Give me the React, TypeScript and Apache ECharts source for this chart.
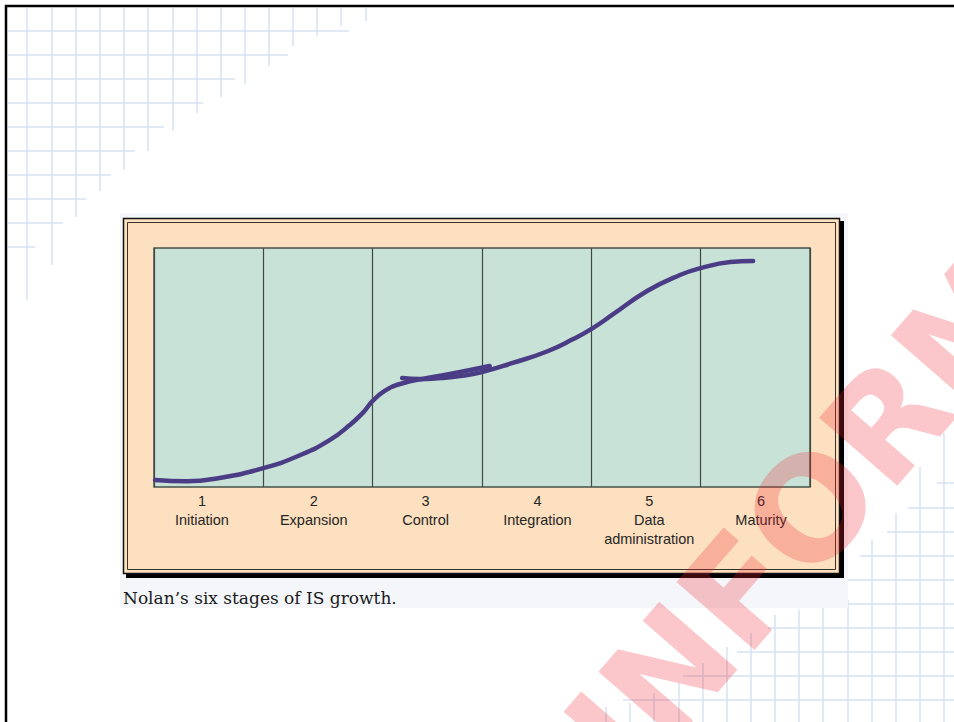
import React, { useEffect, useRef } from "react";
import * as echarts from "echarts";

// ---- chart data ----
const stageNumbers = ["1", "2", "3", "4", "5", "6"];
const stageNames = ["Initiation", "Expansion", "Control", "Integration", "Data\nadministration", "Maturity"];

// Stage position (0..6) and relative growth level (0..100) of the curve
const earlyCurveX = [0.01, 0.3, 0.6, 1.0, 1.34, 1.61, 1.79, 1.91, 2.0, 2.11, 2.25, 2.5, 2.8, 3.07];
const earlyCurveY = [2.9, 2.4, 3.8, 7.9, 13.4, 19.7, 25.9, 31.0, 36.0, 40.2, 43.1, 45.6, 48.1, 50.6];
const lateCurveX = [2.27, 2.43, 2.62, 2.8, 3.0, 3.28, 3.6, 3.83, 4.01, 4.2, 4.51, 4.81, 5.0, 5.27, 5.48];
const lateCurveY = [45.6, 45.2, 45.6, 46.4, 48.1, 51.9, 56.8, 61.8, 66.4, 72.3, 82.0, 88.7, 91.6, 94.1, 94.6];

const captionText = "Nolan\u2019s six stages of IS growth.";
const watermarkText = "INFORM";

// ---- decoration (slide background grid) ----
const tlVerticals: [number, number][] = [
  [27, 300], [52, 265], [76, 217], [100, 191], [124, 170], [148, 151], [173, 131], [197, 113],
  [221, 97], [245, 84], [269, 66], [293, 46], [317, 36], [341, 26], [366, 21],
];
const tlHorizontals: [number, number][] = [
  [31, 349], [55, 288], [79, 235], [103, 203], [127, 164], [151, 135], [175, 111], [199, 86], [223, 63], [247, 35],
];
const brVerticals: [number, number][] = [
  [606, 707], [630, 703], [654, 693], [679, 683], [703, 663], [727, 647], [751, 633], [775, 615],
  [799, 610], [823, 608], [848, 600], [872, 540], [896, 513], [920, 467], [944, 433],
];
const brHorizontals: [number, number][] = [
  [483, 937], [508, 908], [532, 887], [556, 860], [580, 845], [604, 845], [628, 768], [652, 737], [676, 683], [700, 623],
];

const zip = (xs: number[], ys: number[]) => xs.map((x, i) => [x, ys[i]]);

export default function App() {
  const ref = useRef<HTMLDivElement>(null);

  useEffect(() => {
    if (!ref.current) return;
    const chart = echarts.init(ref.current, undefined, { renderer: "svg" });

    const gridLineStyle = { stroke: "#d6e2f1", lineWidth: 1.5 };
    const decoLines: any[] = [];
    tlVerticals.forEach(([x, yEnd]) =>
      decoLines.push({ type: "line", z: 1, shape: { x1: x, y1: 8, x2: x, y2: yEnd }, style: gridLineStyle, silent: true })
    );
    tlHorizontals.forEach(([y, xEnd]) =>
      decoLines.push({ type: "line", z: 1, shape: { x1: 8, y1: y, x2: xEnd, y2: y }, style: gridLineStyle, silent: true })
    );
    brVerticals.forEach(([x, yStart]) =>
      decoLines.push({ type: "line", z: 1, shape: { x1: x, y1: yStart, x2: x, y2: 722 }, style: gridLineStyle, silent: true })
    );
    brHorizontals.forEach(([y, xStart]) =>
      decoLines.push({ type: "line", z: 1, shape: { x1: xStart, y1: y, x2: 954, y2: y }, style: gridLineStyle, silent: true })
    );

    const angle = (49 * Math.PI) / 180;

    chart.setOption({
      animation: false,
      backgroundColor: "#ffffff",
      graphic: [
        ...decoLines,
        // slide border
        { type: "rect", z: 2, shape: { x: 6, y: 6, width: 970, height: 740 }, style: { fill: "none", stroke: "#000", lineWidth: 2.5 } },
        // caption band
        { type: "rect", z: 2, shape: { x: 120, y: 213, width: 728, height: 395 }, style: { fill: "#f4f6fa" } },
        // frame shadow
        { type: "rect", z: 3, shape: { x: 126, y: 221, width: 718, height: 357 }, style: { fill: "#000" } },
        // frame outer
        { type: "rect", z: 3, shape: { x: 123.5, y: 218.5, width: 716, height: 355 }, style: { fill: "#fde0bf", stroke: "#111", lineWidth: 1.5 } },
        // frame inner line
        { type: "rect", z: 3, shape: { x: 127.5, y: 222.5, width: 708, height: 347 }, style: { fill: "none", stroke: "#3a3328", lineWidth: 1 } },
        // caption
        {
          type: "text", z: 4, x: 123, y: 606,
          style: { text: captionText, font: "17px 'DejaVu Serif', serif", fill: "#1a1a1a", textVerticalAlign: "bottom" },
        },
        // watermark
        {
          type: "text", z: 100, x: 596, y: 757, rotation: angle,
          style: {
            text: watermarkText,
            font: "bold 142px 'DejaVu Sans', sans-serif",
            fill: "rgba(240, 40, 50, 0.26)",
            textAlign: "left",
            textVerticalAlign: "middle",
          },
          silent: true,
        },
      ],
      grid: [
        { left: 154, top: 248, width: 656, height: 239, show: true, backgroundColor: "#c9e2d7", borderColor: "#46524a", borderWidth: 1.5, z: 5 },
        { left: 146, top: 248, width: 671, height: 239, show: false, z: 5 },
      ],
      xAxis: [
        {
          type: "value", gridIndex: 0, min: 0, max: 6, interval: 1, z: 6,
          axisLine: { show: false }, axisTick: { show: false }, axisLabel: { show: false },
          splitLine: { show: true, lineStyle: { color: "#3f4b42", width: 1.2 } },
        },
        {
          type: "category", gridIndex: 1, position: "bottom", z: 6,
          data: stageNumbers.map((n, i) => `${n}\n${stageNames[i]}`),
          axisLine: { show: false }, axisTick: { show: false }, splitLine: { show: false },
          axisLabel: {
            interval: 0, margin: 4, color: "#262626", fontSize: 14.5, lineHeight: 19,
            fontFamily: "'Liberation Sans', Arial, sans-serif", verticalAlign: "top", align: "center",
          },
        },
      ],
      yAxis: [
        { type: "value", gridIndex: 0, min: 0, max: 100, show: false, splitLine: { show: false } },
        { type: "value", gridIndex: 1, min: 0, max: 100, show: false, splitLine: { show: false } },
      ],
      series: [
        {
          type: "line", xAxisIndex: 0, yAxisIndex: 0, z: 10, data: zip(earlyCurveX, earlyCurveY),
          smooth: 0.5, showSymbol: false, symbol: "none",
          lineStyle: { color: "#4a3d86", width: 4.5, cap: "round" },
        },
        {
          type: "line", xAxisIndex: 0, yAxisIndex: 0, z: 10, data: zip(lateCurveX, lateCurveY),
          smooth: 0.5, showSymbol: false, symbol: "none",
          lineStyle: { color: "#4a3d86", width: 4.5, cap: "round" },
        },
      ],
    });

    return () => chart.dispose();
  }, []);

  return <div ref={ref} style={{ position: "fixed", left: 0, top: 0, width: 954, height: 722 }} />;
}
